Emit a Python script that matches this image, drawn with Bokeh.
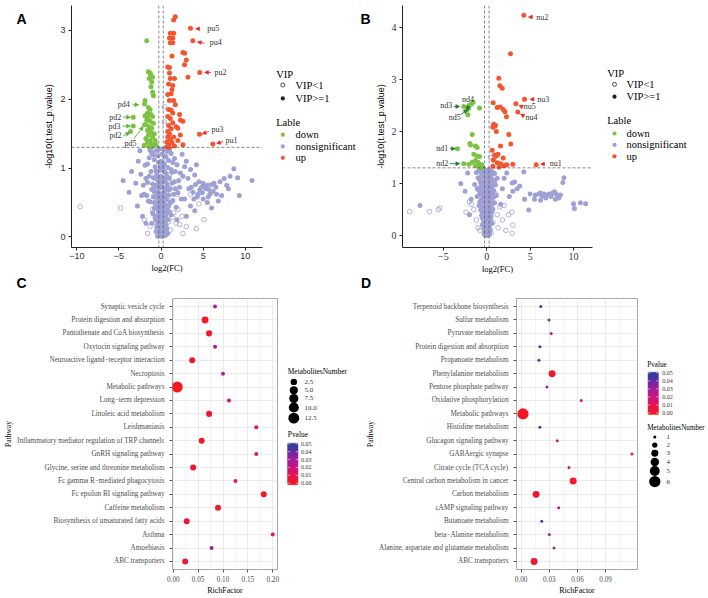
import math
import numpy as np
from bokeh.plotting import figure
from bokeh.models import Range1d, FixedTicker, Arrow, NormalHead, Label, Span, ColumnDataSource
from bokeh.transform import linear_cmap
from bokeh.layouts import row, column
from bokeh.embed import file_html
from bokeh.resources import INLINE
from bokeh.core.properties import value

SERIF = "Liberation Serif"
SANS = "Liberation Sans"

# ======================= DATA =======================
# ---- Panel A volcano: (log2FC, -log10 p) ----
A_up = [(1.7,3.20),(1.5,3.15),(3.5,3.03),(1.1,2.96),(1.5,2.96),(3.78,2.85),(1.0,2.89),(1.4,2.89),
        (1.4,2.82),(1.1,2.82),(1.3,2.63),(2.6,2.68),(2.8,2.67),(3.0,2.57),(2.8,2.50),(4.6,2.39),
        (0.8,2.47),(1.0,2.46),(1.0,2.38),(1.1,2.30),(1.6,2.30),(3.2,2.32),(0.9,2.22),(1.4,2.20),
        (1.3,2.14),(0.8,2.07),(1.2,2.08),(1.0,1.98),(1.5,1.98),(1.7,1.92),(0.9,1.85),(1.2,1.84),
        (1.4,1.80),(2.2,1.78),(0.8,1.75),(1.1,1.72),(2.3,1.70),(2.6,1.68),(1.4,1.66),(0.9,1.62),
        (1.8,1.60),(2.0,1.58),(1.2,1.57),(0.8,1.53),(1.0,1.50),(2.3,1.48),(4.57,1.49),(1.5,1.45),
        (0.8,1.45),(1.1,1.42),(2.0,1.40),(0.7,1.38),(1.3,1.37),(0.9,1.33),(2.6,1.34),(6.15,1.35),
        (1.6,1.32),(0.7,1.31),(1.0,1.30)]
A_down = [(-1.7,2.85),(-1.5,2.40),(-1.3,2.38),(-1.2,2.35),(-1.0,2.32),(-1.4,2.30),(-1.1,2.25),
          (-1.2,2.18),(-1.0,2.10),(-0.9,2.05),(-1.96,1.93),(-1.9,1.98),(-1.5,1.88),(-1.3,1.85),
          (-1.6,1.80),(-1.2,1.78),(-1.9,1.76),(-1.5,1.75),(-1.0,1.75),(-3.3,1.74),(-1.7,1.70),
          (-1.3,1.68),(-0.9,1.65),(-1.8,1.63),(-1.96,1.63),(-3.3,1.61),(-1.4,1.60),(-1.1,1.58),
          (-1.6,1.55),(-3.62,1.53),(-1.2,1.52),(-0.8,1.50),(-1.5,1.48),(-1.0,1.45),(-1.8,1.43),
          (-1.3,1.40),(-0.7,1.40),(-1.6,1.37),(-1.1,1.35),(-2.0,1.33),(-0.9,1.32),(-1.4,1.31),(-0.6,1.34)]
A_ns_vip = [(-0.2,1.28),(0.3,1.27),(-0.6,1.25),(0.7,1.24),(-1.1,1.22),(1.2,1.21),(0.1,1.20),(-0.4,1.18),
            (0.5,1.17),(-1.4,1.15),(1.6,1.14),(-0.8,1.12),(0.9,1.11),(0.0,1.10),(-0.3,1.08),(0.4,1.06),
            (1.9,1.05),(-1.9,1.04),(-0.7,1.02),(0.8,1.01),(0.2,0.99),(-0.1,0.97),(-1.2,0.95),(1.3,0.94),
            (0.6,0.92),(-0.5,0.90),(2.3,0.93),(-2.4,0.91),(0.0,0.88),(-0.9,0.86),(1.0,0.85),(0.3,0.83),
            (-0.3,0.81),(1.6,0.80),(-1.6,0.79),(0.7,0.77),(-0.7,0.75),(0.1,0.73),(-0.2,0.71),(1.1,0.70),
            (-1.1,0.69),(0.4,0.67),(-0.5,0.65),(2.0,0.64),(-2.0,0.62),(0.9,0.61),(0.0,0.59),(-0.9,0.58),
            (0.5,0.56),(-0.3,0.54),(1.4,0.53),(-1.3,0.51),(0.2,0.50),(-0.1,0.48),(0.7,0.46),(-0.6,0.45),
            (1.8,0.43),(0.3,0.41),(-0.4,0.40),(0.0,0.38),(1.0,0.36),(-1.0,0.35),(0.6,0.33),(-0.2,0.31),
            (0.2,0.29),(-0.7,0.27),(0.8,0.25),(0.0,0.23),(-0.4,0.21),(0.4,0.19),(-0.1,0.17),(0.1,0.15),
            (0.5,0.13),(-0.3,0.11),(0.2,0.09),(-0.1,0.07),(0.3,0.05),(0.0,0.03),(-0.2,0.02),(0.1,0.01),
            (-1.3,1.26),(1.0,1.25),(-0.9,1.19),(0.6,1.16),(1.4,1.08),(-1.6,1.06),(0.2,1.04),(-0.1,1.02),
            (1.2,0.98),(-0.6,0.96),(0.4,0.95),(-1.4,0.88),(0.8,0.87),(-0.2,0.84),(0.5,0.82),(1.3,0.78),
            (-1.0,0.77),(0.0,0.76),(-0.4,0.72),(0.3,0.70),(0.9,0.68),(-0.8,0.66),(-0.1,0.63),(1.5,0.62),
            (0.6,0.60),(-0.6,0.58),(0.2,0.55),(-1.5,0.52),(1.1,0.50),(-0.4,0.49),(0.4,0.47),(0.0,0.44),
            (-0.8,0.42),(0.7,0.40),(-0.2,0.37),(0.3,0.35),(1.2,0.32),(-0.5,0.30),(0.1,0.27),(-0.3,0.24),
            (0.5,0.22),(-1.1,0.20),(0.3,0.17),(-0.5,0.14),(0.7,0.12),(0.0,0.10),(-0.4,0.06),(0.4,0.07),
            (0.2,0.03),(-0.3,0.04),(1.7,0.95),(-1.8,0.85),(2.1,0.82),(1.7,0.70),(-1.7,0.60),(2.4,0.55),
            (-2.1,0.75),(1.9,0.25),(-1.2,1.28),(0.6,1.29),
            (-0.7,0.85),(0.6,0.86),(-0.3,0.78),(0.2,0.80),(0.8,0.72),(-0.9,0.70),(0.4,0.63),(-0.5,0.61),
            (0.1,0.57),(-0.2,0.52),(0.7,0.54),(-0.8,0.50),(0.3,0.46),(-0.5,0.43),(0.9,0.44),(0.0,0.41),
            (-0.3,0.36),(0.5,0.38),(-0.9,0.33),(0.2,0.32),(-0.1,0.28),(0.6,0.28),(-0.6,0.25),(0.3,0.24),
            (0.0,0.20),(-0.4,0.17),(0.6,0.17),(0.1,0.12),(-0.2,0.12),(0.4,0.09),(-0.6,0.08),(0.1,0.05),
            (-0.1,0.04),(0.5,0.02),(-0.4,0.01),(0.8,0.05),
            (2.5,1.20),(3.0,1.10),(2.8,1.02),(3.5,0.98),(4.2,1.05),(2.6,0.88),(3.2,0.85),(4.0,0.90),
            (5.0,0.78),(4.5,0.80),(5.5,0.75),(6.0,0.76),(4.8,0.72),(5.3,0.70),(6.5,0.72),(7.0,0.80),
            (7.5,0.85),(8.2,0.88),(8.65,0.99),(9.1,0.86),(10.8,0.82),(6.2,0.66),(5.8,0.62),(7.2,0.60),
            (8.0,0.70),(9.3,0.60),(3.8,0.65),(4.3,0.58),(6.8,0.52),(5.0,0.55),(3.5,0.45),(2.8,0.55),
            (4.0,0.38),(6.0,0.42),(7.8,0.75),(2.2,0.72),(3.0,0.30),(5.5,0.50),
            (3.6,0.72),(4.1,0.76),(4.6,0.68),(5.2,0.74),(5.7,0.69),(6.3,0.78),(4.4,0.62),(3.9,0.55),
            (5.6,0.58),(6.6,0.62),(4.9,0.64),(3.3,0.70),
            (-4.5,0.82),(-3.5,0.95),(-3.0,0.78),(-2.7,1.10),(-2.3,0.60),(-3.8,0.65),(-2.8,0.45),
            (-2.2,0.30),(-2.5,1.25),(-1.8,0.20)]
A_ns_low = [(-9.6,0.44),(-4.8,0.42),(5.1,0.25),(-0.5,0.55),(0.8,0.58),(1.2,0.50),(-1.0,0.40),(1.5,0.35),
            (0.3,0.30),(-0.6,0.20),(0.9,0.22),(1.8,0.20),(-1.3,0.15),(0.5,0.12),(-0.2,0.08),(1.1,0.10),
            (2.2,0.18),(2.6,0.05),(-1.6,0.05),(0.0,0.02),(0.6,0.04),(1.4,0.28),(2.0,0.40),(3.0,0.15),
            (-0.8,0.60),(0.4,0.70),(1.9,0.62),(2.5,0.30),(4.2,0.12),(-2.0,0.25),(1.0,0.90),(0.2,1.10),
            (3.5,0.62),(4.5,0.48),(0.4,1.89),(0.4,1.67)]
A_tag_names = ["pu5", "pu4", "pu2", "pu3", "pu1", "pd4", "pd2", "pd3", "pd2", "pd5"]
A_tag_pts = [(3.5,3.03),(3.78,2.85),(4.6,2.39),(4.57,1.49),(6.15,1.35),
             (-1.96,1.93),(-3.3,1.74),(-3.3,1.61),(-3.62,1.53),(-1.96,1.63)]
A_tag_group = ["up"]*5 + ["down"]*5

# ---- Panel B volcano ----
B_up = [(4.27,4.23),(2.73,3.49),(1.38,3.02),(1.5,2.88),(1.78,2.83),(4.35,2.62),(3.35,2.53),(3.58,2.375),
        (0.74,2.55),(1.2,2.46),(1.55,2.47),(1.9,2.42),(2.1,2.38),(2.27,2.28),(0.8,2.14),(0.9,2.10),
        (0.7,2.08),(1.0,2.12),(1.1,2.0),(2.54,1.94),(1.58,1.72),(2.77,1.76),(0.62,1.64),(0.9,1.55),
        (1.1,1.53),(1.3,1.56),(1.89,1.49),(0.75,1.45),(1.2,1.40),(1.6,1.38),(1.9,1.34),(2.1,1.35),
        (2.3,1.36),(3.0,1.37),(5.7,1.36),(0.7,1.33),(1.4,1.31)]
B_down = [(-1.57,2.56),(-1.8,2.52),(-2.18,2.47),(-2.65,2.48),(-2.07,2.45),(-2.3,2.41),(-2.18,2.32),
          (-0.84,2.45),(-1.68,1.94),(-1.96,1.77),(-1.88,1.74),(-1.3,1.72),(-1.1,1.69),(-3.38,1.67),
          (-1.5,1.56),(-1.1,1.53),(-0.84,1.52),(-1.3,1.44),(-1.68,1.41),(-1.0,1.41),(-2.65,1.38),
          (-2.07,1.37),(-0.92,1.35),(-0.73,1.32),(-1.3,1.34),(-0.77,1.30),(-0.6,1.36),(-0.5,1.31)]
B_ns_vip = [(-0.3,1.28),(0.2,1.26),(-0.8,1.24),(0.6,1.22),(-1.2,1.21),(0.9,1.19),(0.0,1.17),(-0.5,1.15),
            (0.4,1.13),(-1.0,1.11),(1.2,1.10),(-0.2,1.08),(0.7,1.06),(0.1,1.04),(-0.7,1.02),(0.3,1.00),
            (-1.4,0.98),(1.0,0.97),(-0.1,0.95),(0.5,0.93),(-0.4,0.91),(0.0,0.89),(-0.9,0.87),(0.8,0.86),
            (0.2,0.84),(-0.6,0.82),(0.4,0.80),(-0.2,0.78),(1.1,0.77),(-1.1,0.75),(0.0,0.73),(0.6,0.71),
            (-0.4,0.69),(0.2,0.67),(-0.8,0.65),(0.9,0.63),(-0.1,0.61),(0.3,0.59),(-0.5,0.57),(0.1,0.55),
            (-0.3,0.53),(0.7,0.51),(-0.7,0.49),(0.0,0.47),(0.4,0.45),(-0.2,0.43),(0.2,0.41),(-0.6,0.39),
            (0.5,0.37),(-0.1,0.35),(0.1,0.33),(-0.4,0.31),(0.3,0.29),(0.0,0.27),(-0.2,0.25),(0.6,0.23),
            (-0.5,0.21),(0.2,0.19),(-0.1,0.17),(0.1,0.15),(-0.3,0.13),(0.4,0.11),(0.0,0.09),(-0.2,0.07),
            (0.2,0.05),(0.0,0.03),(-0.1,0.01),(0.1,0.00),
            (-0.9,1.27),(0.4,1.25),(-0.4,1.23),(0.8,1.20),(-0.6,1.18),(0.2,1.14),(-0.2,1.12),(0.6,1.09),
            (-0.8,1.07),(0.0,1.05),(0.9,1.03),(-0.5,1.00),(0.3,0.97),(-0.3,0.96),(0.6,0.91),(-1.1,0.90),
            (0.1,0.88),(-0.2,0.85),(0.5,0.83),(-0.8,0.80),(0.2,0.79),(-0.4,0.76),(0.8,0.74),(0.0,0.71),
            (-0.6,0.70),(0.4,0.68),(-0.2,0.66),(0.1,0.64),(-0.4,0.62),(0.6,0.60),(-0.9,0.58),(0.0,0.56),
            (0.3,0.52),(-0.2,0.50),(0.5,0.48),(-0.5,0.46),(0.1,0.44),(-0.3,0.40),(0.3,0.38),(0.0,0.36),
            (-0.5,0.34),(0.4,0.32),(-0.1,0.30),(0.2,0.26),(-0.4,0.22),(0.3,0.20),(0.0,0.18),(-0.2,0.14),
            (0.2,0.12),(-0.1,0.10),(0.1,0.06),(-0.3,0.04),(0.3,0.02),(0.0,0.00),
            (-0.6,1.26),(0.5,1.18),(-0.1,1.20),(0.3,1.10),(-0.4,1.06),(0.8,1.00),(-0.7,0.94),(0.1,0.92),
            (-0.3,0.87),(0.4,0.86),(-0.5,0.79),(0.7,0.78),(-0.1,0.76),(0.3,0.72),(-0.3,0.68),(0.5,0.65),
            (-0.6,0.63),(0.2,0.61),(-0.2,0.58),(0.4,0.55),(-0.4,0.52),(0.0,0.50),(0.6,0.46),(-0.3,0.45),
            (0.2,0.42),(-0.1,0.38),(0.4,0.35),(-0.3,0.32),(0.1,0.28),(-0.2,0.28),(0.3,0.24),(0.0,0.21),
            (-0.3,0.18),(0.2,0.16),(0.0,0.13),(-0.1,0.08),(0.2,0.09),(0.1,0.03),(-0.2,0.01),(0.3,0.06),
            (4.27,1.22),(2.93,1.01),(3.2,1.03),(3.5,0.90),(2.3,1.20),(2.0,1.10),(2.6,0.75),(3.8,0.95),
            (4.35,0.70),(5.0,0.80),(5.5,0.70),(5.6,0.78),(6.0,0.80),(6.2,0.68),(6.4,0.76),(6.8,0.72),
            (7.2,0.80),(7.6,0.82),(7.9,0.70),(8.2,0.74),(8.5,0.78),(8.77,1.02),(8.9,1.11),(10.0,0.61),
            (10.1,0.52),(10.8,0.63),(11.4,0.61),(4.84,0.49),(3.0,0.85),(1.8,0.90),(1.6,0.60),
            (6.6,0.80),(7.0,0.78),(7.4,0.75),(8.0,0.80),(8.3,0.72),(6.2,0.82),(7.8,0.84),
            (-7.7,0.58),(-3.0,1.0),(-2.5,0.85),(-2.2,1.2),(-1.8,0.70),(-2.0,0.40)]
B_ns_low = [(-8.9,0.46),(-6.6,0.46),(-5.6,0.50),(-5.4,0.53),(-1.8,0.60),(-1.5,0.50),(-1.2,0.30),(-0.8,0.10),
            (0.5,0.05),(1.3,0.15),(1.5,0.55),(1.8,0.30),(2.0,0.58),(2.2,0.10),(2.5,0.40),(2.9,0.45),
            (3.0,0.20),(2.93,0.04),(-2.0,0.65),(1.0,0.80),(0.4,1.50),(0.8,1.45),(-0.5,0.35),(0.7,0.25),
            (-1.0,0.15),(1.2,0.40),(-2.4,0.45),(0.0,0.60)]
B_tag_names = ["nu2", "nu3", "nu5", "nu4", "nu1", "nd4", "nd3", "nd5", "nd1", "nd2"]
B_tag_pts = [(4.27,4.23),(4.35,2.62),(3.35,2.53),(3.58,2.375),(5.7,1.36),
             (-2.18,2.32),(-2.65,2.48),(-2.07,2.45),(-3.38,1.67),(-2.65,1.38)]
B_tag_group = ["up"]*5 + ["down"]*5

VIP_levels = ["VIP<1", "VIP>=1"]
Lable_levels = ["down", "nonsignificant", "up"]
Panel_letters = ["A", "B", "C", "D"]

# ---- Panel C enrichment (bottom -> top) ----
C_pathways = ["ABC transporters", "Amoebiasis", "Asthma", "Biosynthesis of unsaturated fatty acids",
              "Caffeine metabolism", "Fc epsilon RI signaling pathway", "Fc gamma R\u2212mediated phagocytosis",
              "Glycine, serine and threonine metabolism", "GnRH signaling pathway",
              "Inflammatory mediator regulation of TRP channels", "Leishmaniasis", "Linoleic acid metabolism",
              "Long\u2212term depression", "Metabolic pathways", "Necroptosis",
              "Neuroactive ligand\u2212receptor interaction", "Oxytocin signaling pathway",
              "Pantothenate and CoA biosynthesis", "Protein digestion and absorption", "Synaptic vesicle cycle"]
C_rich = [0.024, 0.077, 0.200, 0.027, 0.090, 0.182, 0.125, 0.040, 0.167, 0.057,
          0.167, 0.072, 0.112, 0.008, 0.100, 0.038, 0.084, 0.072, 0.064, 0.084]
C_num = [2, 1, 1, 2, 2, 2, 1, 2, 1, 2, 1, 2, 1, 13, 1, 2, 1, 2, 3, 1]
C_p = [0.006, 0.033, 0.010, 0.005, 0.001, 0.001, 0.017, 0.004, 0.012, 0.003,
       0.012, 0.002, 0.020, 0.0001, 0.025, 0.003, 0.030, 0.002, 0.001, 0.030]
C_x_ticks = [0.0, 0.05, 0.10, 0.15, 0.20]
C_size_breaks = [2.5, 5.0, 7.5, 10.0, 12.5]

# ---- Panel D enrichment (bottom -> top) ----
D_pathways = ["ABC transporters", "Alanine, aspartate and glutamate metabolism", "beta\u2212Alanine metabolism",
              "Butanoate metabolism", "cAMP signaling pathway", "Carbon metabolism",
              "Central carbon metabolism in cancer", "Citrate cycle (TCA cycle)", "GABAergic synapse",
              "Glucagon signaling pathway", "Histidine metabolism", "Metabolic pathways",
              "Oxidative phosphorylation", "Pentose phosphate pathway", "Phenylalanine metabolism",
              "Propanoate metabolism", "Protein digestion and absorption", "Pyruvate metabolism",
              "Sulfur metabolism", "Terpenoid backbone biosynthesis"]
D_rich = [0.0138, 0.035, 0.030, 0.022, 0.040, 0.016, 0.0554, 0.051, 0.118, 0.0385,
          0.020, 0.002, 0.064, 0.0275, 0.033, 0.019, 0.020, 0.032, 0.0297, 0.021]
D_num = [3, 1, 1, 1, 1, 3, 3, 1, 1, 1, 1, 6, 1, 1, 3, 1, 1, 1, 1, 1]
D_p = [0.003, 0.028, 0.032, 0.042, 0.022, 0.003, 0.001, 0.012, 0.006, 0.022,
       0.045, 0.0001, 0.012, 0.035, 0.002, 0.045, 0.045, 0.032, 0.035, 0.045]
D_x_ticks = [0.0, 0.03, 0.06, 0.09]
D_size_breaks = [1, 2, 3, 4, 5, 6]

P_breaks = [0.05, 0.04, 0.03, 0.02, 0.01, 0.00]

# ======================= STYLE =======================
COL_DOWN = "#7DC243"
COL_NS = "#9EA0D6"
COL_UP = "#F4552F"
ARROW_UP = "#E8262A"
ARROW_DOWN_A = "#58B22F"
ARROW_DOWN_B = "#1E7A36"
GREY_TXT = "#333333"


def make_palette(stops, n=256):
    pos = np.array([s[0] for s in stops])
    rgb = np.array([[int(s[1][i:i + 2], 16) for i in (1, 3, 5)] for s in stops], dtype=float)
    out = []
    for tt in np.linspace(0, 1, n):
        r, g, b = (np.interp(tt, pos, rgb[:, k]) for k in range(3))
        out.append("#%02x%02x%02x" % (int(round(r)), int(round(g)), int(round(b))))
    return out


PALETTE = make_palette([(0.0, "#F21A22"), (0.2, "#E3174E"), (0.4, "#CE157C"),
                        (0.6, "#A81E98"), (0.8, "#7028A4"), (1.0, "#2F40A0")])


def xs(pts):
    return [p[0] for p in pts]


def ys(pts):
    return [p[1] for p in pts]


def main_fig(width, height, xr, yr, bl, br, bt, bb):
    p = figure(width=width, height=height, x_range=Range1d(*xr), y_range=Range1d(*yr),
               toolbar_location=None, output_backend="svg", tools="",
               min_border_left=bl, min_border_right=br, min_border_top=bt, min_border_bottom=bb)
    p.background_fill_color = "white"
    p.border_fill_color = "white"
    return p


def blank_fig(width, height, x0, x1, ytop, ybot):
    p = figure(width=width, height=height, x_range=Range1d(x0, x1), y_range=Range1d(ybot, ytop),
               toolbar_location=None, output_backend="svg", tools="",
               x_axis_type=None, y_axis_type=None, min_border=0)
    p.outline_line_color = None
    p.grid.visible = False
    return p


def letters(p, txt, xpos, ypos):
    p.text(x=xpos, y=ypos, text=txt, text_font=value(SANS), text_font_style="bold",
           text_font_size="14px", text_align="center", text_baseline="middle", text_color="black")


def style_volcano(p, tick_font, tick_size, xticks, yticks, overrides=None):
    p.grid.visible = False
    p.outline_line_color = None
    p.xaxis.ticker = FixedTicker(ticks=xticks)
    p.yaxis.ticker = FixedTicker(ticks=yticks)
    if overrides:
        p.xaxis.major_label_overrides = overrides
    for ax in (p.xaxis, p.yaxis):
        ax.axis_line_color = "#222222"
        ax.axis_line_width = 1
        ax.major_tick_line_color = "#222222"
        ax.major_tick_out = 3
        ax.major_tick_in = 0
        ax.minor_tick_line_color = None
        ax.major_label_text_font = tick_font
        ax.major_label_text_font_size = tick_size
        ax.major_label_text_color = GREY_TXT
        ax.axis_label_text_font_style = "normal"
        ax.axis_label_text_color = "black"
    p.xaxis.axis_label = "log2(FC)"
    p.xaxis.axis_label_text_font = SERIF
    p.xaxis.axis_label_text_font_size = "8.5px"
    p.xaxis.major_label_standoff = 2
    p.xaxis.axis_label_standoff = 1
    p.yaxis.axis_label = "-log10(t.test_p.value)"
    p.yaxis.axis_label_text_font = SANS
    p.yaxis.axis_label_text_font_size = "9px"
    p.yaxis.major_label_standoff = 3
    p.yaxis.axis_label_standoff = 3


def draw_volcano(p, up, down, ns_vip, ns_low):
    p.scatter(xs(ns_low), ys(ns_low), marker="circle", size=4.6, fill_color=None,
              line_color=COL_NS, line_width=0.8)
    p.scatter(xs(ns_vip), ys(ns_vip), marker="circle", size=5, fill_color=COL_NS, line_color=None)
    p.scatter(xs(down), ys(down), marker="circle", size=5, fill_color=COL_DOWN, line_color=None)
    p.scatter(xs(up), ys(up), marker="circle", size=5, fill_color=COL_UP, line_color=None)
    for loc in (-0.263, 0.263):
        p.add_layout(Span(location=loc, dimension="height", line_dash="3 2",
                          line_color="#555555", line_width=0.7))
    p.add_layout(Span(location=-math.log10(0.05), dimension="width", line_dash="3 2",
                      line_color="#555555", line_width=0.7))


def annotate(p, names, pts, offs, sx, sy, colors):
    for name, (x, y), (hdx, hdy, tdx, tdy, ldx, ldy, al), c in zip(names, pts, offs, colors):
        p.add_layout(Arrow(end=NormalHead(size=4, fill_color=c, line_color=c, line_width=0.5),
                           x_start=x + tdx / sx, y_start=y - tdy / sy,
                           x_end=x + hdx / sx, y_end=y - hdy / sy,
                           line_color=c, line_width=0.9))
        p.add_layout(Label(x=x + ldx / sx, y=y - ldy / sy, text=name, text_font=SERIF,
                           text_font_size="8px", text_align=al, text_baseline="middle",
                           text_color=GREY_TXT))


def volcano_legend(p, x_title, x_sym, x_txt, y_vip, y_vrows, y_lab, y_lrows):
    p.text(x=[x_title, x_title], y=[y_vip, y_lab], text=["VIP", "Lable"], text_font=value(SERIF),
           text_font_size="10.5px", text_baseline="middle", text_align="left", text_color="black")
    p.scatter([x_sym], [y_vrows[0]], marker="circle", size=4, fill_color=None, line_color="#222222",
              line_width=0.8)
    p.scatter([x_sym], [y_vrows[1]], marker="circle", size=4.2, fill_color="#222222", line_color=None)
    p.scatter([x_sym] * 3, y_lrows, marker="circle", size=4.2,
              fill_color=[COL_DOWN, COL_NS, COL_UP], line_color=None)
    p.text(x=[x_txt] * 5, y=list(y_vrows) + list(y_lrows), text=VIP_levels + Lable_levels,
           text_font=value(SERIF), text_font_size="10.5px", text_baseline="middle",
           text_align="left", text_color="black")


def enrich_fig(width, height, xr, bl, br, bt, bb, paths, rich, num, pvals, size_fn, xticks, minor):
    p = main_fig(width, height, xr, (0.4, 20.6), bl, br, bt, bb)
    yv = list(range(1, len(paths) + 1))
    src = ColumnDataSource(dict(x=rich, y=yv, p=pvals, s=[size_fn(n) for n in num]))
    p.scatter("x", "y", source=src, marker="circle", size="s", line_color=None,
              fill_color=linear_cmap("p", PALETTE, 0.0, 0.05))
    p.outline_line_color = "#A8A8A8"
    p.outline_line_width = 1
    p.xaxis.ticker = FixedTicker(ticks=xticks, minor_ticks=minor)
    p.yaxis.ticker = FixedTicker(ticks=yv)
    p.yaxis.major_label_overrides = {i: name for i, name in zip(yv, paths)}
    p.xaxis.major_label_overrides = {t: "%.2f" % t for t in xticks}
    p.xgrid.grid_line_color = "#EBEBEB"
    p.xgrid.minor_grid_line_color = "#F4F4F4"
    p.ygrid.grid_line_color = "#EBEBEB"
    for ax in (p.xaxis, p.yaxis):
        ax.axis_line_color = None
        ax.major_tick_line_color = "#555555"
        ax.major_tick_out = 3
        ax.major_tick_in = 0
        ax.minor_tick_line_color = None
        ax.major_label_text_font = SERIF
        ax.major_label_text_font_size = "7.2px"
        ax.major_label_text_color = "#4D4D4D"
        ax.axis_label_text_font = SERIF
        ax.axis_label_text_font_style = "normal"
        ax.axis_label_text_color = "black"
    p.xaxis.axis_label = "RichFactor"
    p.xaxis.axis_label_text_font_size = "8px"
    p.xaxis.major_label_standoff = 2
    p.xaxis.axis_label_standoff = 1
    p.yaxis.axis_label = "Pathway"
    p.yaxis.axis_label_text_font_size = "7.5px"
    p.yaxis.major_label_standoff = 5
    p.yaxis.axis_label_standoff = 1
    return p


def size_C(n):
    return 4 + 7 * math.sqrt((n - 1) / 12.0)


def size_D(n):
    return 3 + 8.3 * ((n - 1) / 5.0) ** 0.8


def colorbar(p, x0, x1, y_p0, y_p5, lab_x, lab_size):
    n = 30
    edges = np.linspace(-0.0008, 0.0508, n + 1)
    k = (y_p0 - y_p5) / 0.05
    cols = [PALETTE[int(min(max((e0 + e1) / 2 / 0.05, 0), 1) * 255)] for e0, e1 in zip(edges[:-1], edges[1:])]
    p.quad(left=[x0] * n, right=[x1] * n, bottom=[y_p0 - e * k + 1.0 for e in edges[:-1]],
           top=[y_p0 - e * k for e in edges[1:]], fill_color=cols, line_color=cols, line_width=0.5)
    tick_y = [y_p0 - b * k for b in P_breaks]
    p.segment(x0=[x0] * 6, x1=[x0 + 2] * 6, y0=tick_y, y1=tick_y, line_color="white", line_width=0.6)
    p.segment(x0=[x1 - 2] * 6, x1=[x1] * 6, y0=tick_y, y1=tick_y, line_color="white", line_width=0.6)
    p.text(x=[lab_x] * 6, y=tick_y, text=["%.2f" % b for b in P_breaks],
           text_font=value(SERIF), text_font_size=lab_size, text_baseline="middle", text_align="left",
           text_color="#333333")


# ======================= TOP ROW (page y 0..276) =======================
stripA = blank_fig(30, 276, 0, 30, 0, 276)
letters(stripA, [Panel_letters[0]], [21], [15])

A_xr = (-10.63, 12.05)
A_yr = (-0.154, 3.362)
pA = main_fig(236, 276, A_xr, A_yr, 41, 4, 5, 27)
style_volcano(pA, SANS, "9px", [-10, -5, 0, 5, 10], [0, 1, 2, 3])
draw_volcano(pA, A_up, A_down, A_ns_vip, A_ns_low)
A_sx = 191 / (A_xr[1] - A_xr[0])
A_sy = 244 / (A_yr[1] - A_yr[0])
A_offs = [(5, 0.5, 9.3, 0.5, 16.7, 0.3, "left"),
          (4.4, 1, 11.7, 2.6, 17, 2, "left"),
          (4.7, 0, 11.4, 0, 14.7, 0, "left"),
          (2.7, -0.4, 9.3, -3, 12, -4.7, "left"),
          (3.7, -0.4, 10.4, -2.4, 12.7, -4, "left"),
          (-5.7, 0.7, -12.3, 0.7, -14.7, 0.7, "right"),
          (-2.7, 0, -10.4, 0, -12, 0, "right"),
          (-2.7, 0, -11, 0, -12.7, 0, "right"),
          (-0.7, 1, -7.3, 4.4, -9, 4.4, "right"),
          (-1.3, 1.7, -10.7, 14.3, -14, 18.5, "center")]
annotate(pA, A_tag_names, A_tag_pts, A_offs, A_sx, A_sy,
         [ARROW_UP if g == "up" else ARROW_DOWN_A for g in A_tag_group])

lA = blank_fig(106, 276, 266, 372, 0, 276)
volcano_legend(lA, 275.7, 282.3, 295, 78.3, (90.7, 106), 133.3, (147.3, 160.7, 173.7))
letters(lA, [Panel_letters[1]], [365], [15.5])

B_xr = (-9.72, 12.19)
B_yr = (-0.229, 4.419)
pB = main_fig(224, 276, B_xr, B_yr, 30, 4, 5, 27)
style_volcano(pB, SERIF, "10px", [-5, 0, 5, 10], [0, 1, 2, 3, 4], {-5: "\u22125"})
draw_volcano(pB, B_up, B_down, B_ns_vip, B_ns_low)
B_sx = 190 / (B_xr[1] - B_xr[0])
B_sy = 244 / (B_yr[1] - B_yr[0])
B_offs = [(4.4, 1.7, 9.4, 1.7, 12.4, 1.7, "left"),
          (5.3, 0, 10, 0, 12.7, 0, "left"),
          (3, 1.7, 7.4, 3.3, 8, 2.7, "left"),
          (2.7, 2, 6.7, 4.4, 7.7, 6, "left"),
          (4.3, -0.7, 8.6, -0.7, 13.6, -1.7, "left"),
          (0, -4, 0, -11.7, 0, -15.7, "center"),
          (-4, 0, -10, 0, -11.6, -0.7, "right"),
          (-1.3, 1.7, -8, 6.7, -8, 9.3, "right"),
          (-2, 0, -7.7, 0, -9.3, 0, "right"),
          (-4, 0, -14, 0, -15.6, 0, "right")]
annotate(pB, B_tag_names, B_tag_pts, B_offs, B_sx, B_sy,
         [ARROW_UP if g == "up" else ARROW_DOWN_B for g in B_tag_group])

lB = blank_fig(111, 276, 596, 707, 0, 276)
volcano_legend(lB, 606.7, 614, 626, 77, (90, 104), 131.7, (146, 159, 172))

# ======================= LETTER STRIP (page y 276..298) =======================
stripCD = blank_fig(707, 22, 0, 707, 276, 298)
letters(stripCD, Panel_letters[2:], [21, 365.5], [282.5, 282])

# ======================= BOTTOM ROW (page y 298..597) =======================
C_xr = (-0.0016, 0.2096)
pC = enrich_fig(281, 299, C_xr, 171, 4, 0, 23, C_pathways, C_rich, C_num, C_p, size_C,
                C_x_ticks, [0.025, 0.075, 0.125, 0.175])

lC = blank_fig(77, 299, 281, 358, 298, 597)
lC.text(x=[287.3, 287.3], y=[379, 448], text=["MetabolitesNumber", "Pvalue"],
        text_font=value(SERIF), text_font_size="7.4px", text_baseline="middle", text_align="left",
        text_color="black")
C_leg_y = [390, 399.3, 408.3, 418.3, 430]
lC.scatter([293.3] * 5, C_leg_y, marker="circle", size=[size_C(b) for b in C_size_breaks],
           fill_color="black", line_color=None)
lC.text(x=[304] * 5, y=C_leg_y, text=["%.1f" % b for b in C_size_breaks], text_font=value(SERIF),
        text_font_size="7px", text_baseline="middle", text_align="left", text_color="#333333")
colorbar(lC, 287.3, 297.3, 501.7, 458.3, 300.5, "6px")

D_xr = (-0.0049, 0.1239)
pD = enrich_fig(282, 299, D_xr, 158, 3, 0, 23, D_pathways, D_rich, D_num, D_p, size_D,
                D_x_ticks, [0.015, 0.045, 0.075, 0.105])

lD = blank_fig(67, 299, 640, 707, 298, 597)
lD.text(x=[646.7, 646.7], y=[371, 440.7], text=["Pvalue", "MetabolitesNumber"],
        text_font=value(SERIF), text_font_size="7.2px", text_baseline="middle", text_align="left",
        text_color="black")
colorbar(lD, 647.7, 657.7, 424.3, 380, 661.7, "6px")
D_leg_y = [450.7, 459.7, 468.7, 478.3, 488.3, 500]
lD.scatter([654.3] * 6, D_leg_y, marker="circle", size=[size_D(b) for b in D_size_breaks],
           fill_color="black", line_color=None)
lD.text(x=[666] * 6, y=D_leg_y, text=[str(b) for b in D_size_breaks], text_font=value(SERIF),
        text_font_size="7px", text_baseline="middle", text_align="left", text_color="#333333")

layout = column(row(stripA, pA, lA, pB, lB), stripCD, row(pC, lC, pD, lD))
open("out.html", "w").write(file_html(layout, INLINE))
